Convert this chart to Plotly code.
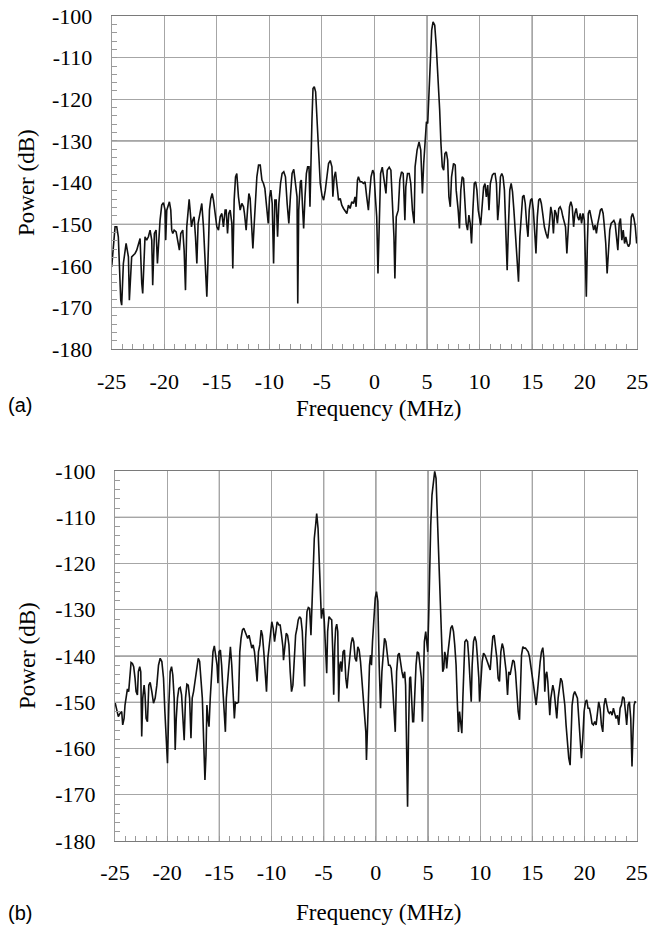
import plotly.graph_objects as go

# ---------------- data: panel (a) ----------------
freq_a = [
    -25.0, -24.68, -24.52, -24.37, -24.14, -24.05, -23.89, -23.73, -23.63, -23.41,
    -23.32, -23.10, -22.94, -22.78, -22.62, -22.46, -22.30, -22.14, -22.05, -21.83,
    -21.67, -21.51, -21.35, -21.19, -21.10, -20.94, -20.78, -20.65, -20.56, -20.40,
    -20.24, -20.08, -19.92, -19.86, -19.76, -19.60, -19.51, -19.38, -19.29, -19.19,
    -19.06, -18.87, -18.75, -18.56, -18.43, -18.24, -18.11, -17.98, -17.86, -17.73,
    -17.63, -17.54, -17.41, -17.29, -17.16, -17.03, -16.90, -16.78, -16.59, -16.43,
    -16.27, -16.11, -15.95, -15.79, -15.70, -15.57, -15.44, -15.32, -15.16, -15.00,
    -14.84, -14.68, -14.52, -14.37, -14.21, -14.11, -13.98, -13.86, -13.73, -13.57,
    -13.48, -13.35, -13.22, -13.10, -12.94, -12.78, -12.62, -12.46, -12.37, -12.21,
    -12.08, -11.95, -11.83, -11.67, -11.57, -11.44, -11.32, -11.19, -11.03, -10.87,
    -10.71, -10.56, -10.43, -10.24, -10.11, -9.98, -9.86, -9.73, -9.60, -9.48,
    -9.35, -9.22, -9.10, -8.94, -8.79, -8.63, -8.47, -8.31, -8.15, -8.00,
    -7.84, -7.68, -7.52, -7.37, -7.30, -7.21, -7.05, -6.96, -6.83, -6.74,
    -6.61, -6.48, -6.36, -6.23, -6.14, -6.04, -5.95, -5.85, -5.73, -5.60,
    -5.47, -5.32, -5.16, -5.00, -4.84, -4.68, -4.53, -4.37, -4.21, -4.05,
    -3.96, -3.83, -3.71, -3.58, -3.42, -3.26, -3.11, -2.95, -2.79, -2.63,
    -2.48, -2.32, -2.16, -2.00, -1.85, -1.75, -1.62, -1.53, -1.37, -1.21,
    -1.06, -0.90, -0.74, -0.58, -0.49, -0.33, -0.17, -0.05, 0.08, 0.21,
    0.33, 0.46, 0.58, 0.74, 0.90, 1.09, 1.21, 1.40, 1.56, 1.72,
    1.85, 1.94, 2.07, 2.26, 2.41, 2.57, 2.73, 2.89, 2.98, 3.14,
    3.30, 3.45, 3.61, 3.77, 3.86, 4.05, 4.24, 4.40, 4.56, 4.68,
    4.81, 4.94, 5.06, 5.16, 5.28, 5.44, 5.57, 5.73, 5.88, 6.04,
    6.20, 6.32, 6.45, 6.58, 6.70, 6.83, 6.96, 7.08, 7.21, 7.33,
    7.52, 7.68, 7.77, 7.96, 8.08, 8.21, 8.34, 8.47, 8.60, 8.72,
    8.85, 8.98, 9.11, 9.23, 9.36, 9.49, 9.62, 9.74, 9.87, 10.10,
    10.26, 10.38, 10.51, 10.64, 10.77, 10.89, 11.02, 11.21, 11.34, 11.47,
    11.60, 11.72, 11.85, 11.98, 12.11, 12.23, 12.36, 12.49, 12.62, 12.74,
    12.87, 13.00, 13.13, 13.26, 13.38, 13.51, 13.70, 13.83, 13.96, 14.09,
    14.21, 14.34, 14.47, 14.60, 14.72, 14.85, 14.98, 15.11, 15.23, 15.36,
    15.49, 15.62, 15.75, 15.87, 16.00, 16.16, 16.32, 16.48, 16.64, 16.77,
    16.89, 17.02, 17.15, 17.28, 17.40, 17.53, 17.66, 17.79, 17.92, 18.04,
    18.17, 18.30, 18.43, 18.55, 18.68, 18.81, 18.94, 19.06, 19.19, 19.32,
    19.45, 19.57, 19.70, 19.83, 19.96, 20.09, 20.15, 20.25, 20.34, 20.47,
    20.60, 20.72, 20.85, 20.98, 21.11, 21.24, 21.36, 21.49, 21.62, 21.75,
    21.87, 22.00, 22.13, 22.26, 22.38, 22.51, 22.64, 22.77, 22.89, 23.02,
    23.15, 23.28, 23.40, 23.53, 23.66, 23.79, 23.91, 24.04, 24.17, 24.30,
    24.43, 24.55, 24.68, 24.81, 24.94,
]
power_a = [
    -160.2, -150.6, -150.6, -153.0, -168.2, -169.4, -159.4, -155.4, -154.6, -157.8,
    -168.2, -157.8, -157.4, -157.0, -156.2, -154.6, -153.4, -164.2, -166.6, -153.0,
    -153.8, -153.0, -151.4, -153.8, -164.6, -152.2, -151.4, -159.4, -154.6, -149.0,
    -145.4, -144.8, -146.6, -153.8, -146.6, -145.0, -144.6, -146.6, -151.4, -152.2,
    -151.4, -151.8, -153.8, -156.2, -152.2, -151.4, -156.2, -165.8, -150.6, -146.6,
    -144.0, -146.6, -150.6, -149.0, -148.2, -153.0, -159.4, -149.8, -146.6, -145.0,
    -150.6, -161.0, -167.4, -154.6, -146.6, -143.8, -142.6, -144.2, -148.2, -150.6,
    -151.4, -148.2, -147.4, -150.6, -146.6, -146.6, -152.2, -147.4, -146.6, -149.8,
    -160.6, -144.2, -138.6, -137.8, -143.4, -146.6, -145.0, -145.8, -147.4, -151.4,
    -146.6, -142.6, -143.8, -151.4, -155.8, -149.8, -145.0, -138.6, -135.8, -135.8,
    -139.4, -140.2, -141.4, -146.6, -149.8, -143.4, -141.8, -145.0, -159.4, -144.2,
    -144.2, -153.0, -145.0, -140.2, -137.8, -137.4, -138.6, -145.0, -149.8, -143.4,
    -137.8, -136.8, -140.2, -143.4, -169.0, -146.6, -139.8, -139.4, -146.6, -151.0,
    -143.4, -137.8, -136.2, -136.2, -145.8, -130.6, -125.0, -117.4, -117.0, -118.2,
    -124.2, -133.0, -140.2, -143.0, -144.2, -141.8, -138.6, -135.4, -134.7, -136.2,
    -143.4, -138.6, -137.4, -140.2, -144.2, -143.8, -145.4, -146.2, -147.0, -147.4,
    -145.4, -146.2, -144.6, -145.0, -143.4, -145.8, -139.4, -138.6, -139.8, -139.8,
    -140.2, -139.8, -143.4, -146.6, -143.4, -138.6, -137.0, -137.8, -143.4, -148.2,
    -161.8, -146.6, -137.8, -136.3, -139.4, -142.6, -137.0, -136.3, -137.0, -146.6,
    -153.0, -163.0, -148.2, -146.6, -139.4, -137.4, -137.8, -149.0, -141.0, -137.8,
    -137.8, -140.2, -146.6, -149.8, -136.2, -132.2, -130.2, -132.2, -142.6, -135.4,
    -129.0, -125.4, -125.8, -120.2, -109.8, -103.4, -101.4, -102.2, -107.4, -114.6,
    -122.6, -130.6, -136.2, -137.0, -133.0, -132.6, -134.6, -143.4, -145.8, -138.6,
    -135.4, -135.8, -141.8, -146.6, -151.0, -141.8, -138.6, -139.0, -143.4, -149.8,
    -151.4, -147.8, -149.8, -154.6, -146.6, -140.2, -139.8, -141.8, -146.6, -150.2,
    -145.0, -141.0, -140.2, -143.4, -140.6, -146.6, -140.2, -138.2, -137.8, -137.8,
    -140.2, -149.0, -145.0, -138.6, -137.8, -138.6, -141.8, -149.8, -161.0, -150.6,
    -141.8, -140.2, -142.2, -146.6, -151.4, -156.2, -163.8, -153.0, -146.6, -143.4,
    -143.0, -145.0, -149.8, -153.0, -146.6, -144.2, -143.8, -146.6, -151.4, -157.0,
    -148.2, -144.2, -143.8, -145.0, -147.4, -150.6, -152.2, -153.4, -149.8, -145.8,
    -147.4, -152.2, -146.6, -147.4, -149.8, -146.2, -145.8, -146.6, -148.2, -149.8,
    -150.6, -157.0, -149.8, -145.8, -144.6, -145.8, -150.6, -147.4, -146.2, -148.2,
    -149.0, -147.4, -149.8, -147.4, -149.0, -161.0, -167.4, -154.6, -147.4, -146.6,
    -148.2, -149.8, -151.4, -150.2, -152.2, -149.8, -148.2, -146.6, -146.2, -147.4,
    -150.6, -154.6, -161.8, -154.6, -151.4, -149.8, -149.4, -149.1, -149.8, -153.0,
    -156.2, -149.8, -148.6, -153.8, -151.4, -154.6, -153.0, -154.6, -155.4, -154.6,
    -148.2, -147.4, -148.6, -150.6, -154.6,
]

# ---------------- data: panel (b) ----------------
freq_b = [
    -25.0, -24.84, -24.68, -24.52, -24.36, -24.26, -24.13, -24.04, -23.94, -23.81,
    -23.69, -23.56, -23.46, -23.33, -23.21, -23.08, -22.98, -22.85, -22.76, -22.63,
    -22.53, -22.44, -22.34, -22.21, -22.12, -22.02, -21.89, -21.76, -21.63, -21.47,
    -21.31, -21.15, -20.99, -20.83, -20.67, -20.51, -20.35, -20.22, -20.10, -19.97,
    -19.84, -19.71, -19.58, -19.46, -19.33, -19.23, -19.13, -19.01, -18.88, -18.75,
    -18.62, -18.49, -18.37, -18.24, -18.11, -17.98, -17.85, -17.72, -17.60, -17.47,
    -17.31, -17.15, -17.02, -16.89, -16.76, -16.63, -16.51, -16.38, -16.28, -16.19,
    -16.09, -15.99, -15.87, -15.74, -15.61, -15.48, -15.35, -15.22, -15.13, -15.03,
    -14.90, -14.78, -14.65, -14.52, -14.42, -14.33, -14.20, -14.07, -13.94, -13.81,
    -13.69, -13.56, -13.46, -13.30, -13.17, -13.04, -12.92, -12.79, -12.66, -12.53,
    -12.40, -12.28, -12.15, -12.02, -11.89, -11.76, -11.63, -11.51, -11.38, -11.25,
    -11.12, -10.99, -10.87, -10.74, -10.61, -10.48, -10.35, -10.22, -10.10, -9.97,
    -9.84, -9.71, -9.58, -9.46, -9.29, -9.17, -9.04, -8.91, -8.85, -8.72,
    -8.59, -8.46, -8.33, -8.21, -8.08, -7.95, -7.82, -7.69, -7.56, -7.44,
    -7.31, -7.18, -7.05, -6.92, -6.83, -6.73, -6.60, -6.47, -6.35, -6.22,
    -6.12, -6.03, -5.90, -5.77, -5.67, -5.54, -5.42, -5.32, -5.22, -5.13,
    -5.03, -4.94, -4.81, -4.71, -4.62, -4.49, -4.36, -4.23, -4.13, -4.04,
    -3.94, -3.85, -3.75, -3.65, -3.56, -3.46, -3.37, -3.27, -3.14, -3.01,
    -2.88, -2.76, -2.63, -2.50, -2.37, -2.24, -2.12, -1.99, -1.86, -1.73,
    -1.60, -1.47, -1.35, -1.22, -1.09, -0.96, -0.90, -0.80, -0.71, -0.61,
    -0.51, -0.42, -0.32, -0.19, -0.06, 0.06, 0.19, 0.32, 0.45, 0.58,
    0.71, 0.83, 0.96, 1.09, 1.22, 1.35, 1.47, 1.60, 1.73, 1.86,
    1.99, 2.12, 2.24, 2.37, 2.50, 2.63, 2.76, 2.85, 2.95, 3.04,
    3.14, 3.24, 3.33, 3.43, 3.53, 3.62, 3.72, 3.85, 3.97, 4.10,
    4.23, 4.36, 4.46, 4.55, 4.65, 4.78, 4.87, 4.97, 5.06, 5.16,
    5.26, 5.38, 5.51, 5.64, 5.77, 5.90, 6.03, 6.15, 6.28, 6.41,
    6.51, 6.60, 6.70, 6.79, 6.92, 7.05, 7.18, 7.31, 7.44, 7.56,
    7.69, 7.82, 7.92, 8.02, 8.15, 8.24, 8.34, 8.44, 8.53, 8.66,
    8.79, 8.91, 9.04, 9.14, 9.23, 9.36, 9.49, 9.62, 9.74, 9.87,
    9.94, 10.06, 10.19, 10.32, 10.45, 10.57, 10.70, 10.83, 10.96, 11.09,
    11.21, 11.34, 11.47, 11.60, 11.72, 11.85, 11.98, 12.11, 12.23, 12.36,
    12.49, 12.62, 12.74, 12.87, 13.00, 13.13, 13.26, 13.38, 13.51, 13.64,
    13.77, 13.86, 13.96, 14.09, 14.21, 14.34, 14.47, 14.60, 14.72, 14.85,
    14.98, 15.11, 15.23, 15.36, 15.49, 15.62, 15.75, 15.87, 16.00, 16.10,
    16.19, 16.29, 16.38, 16.48, 16.58, 16.67, 16.77, 16.86, 16.96, 17.09,
    17.21, 17.34, 17.47, 17.60, 17.72, 17.85, 17.98, 18.11, 18.23, 18.36,
    18.49, 18.62, 18.71, 18.81, 18.94, 19.06, 19.19, 19.32, 19.45, 19.58,
    19.70, 19.83, 19.96, 20.09, 20.21, 20.34, 20.47, 20.60, 20.72, 20.85,
    20.98, 21.11, 21.24, 21.36, 21.49, 21.62, 21.75, 21.87, 22.00, 22.13,
    22.26, 22.38, 22.51, 22.64, 22.77, 22.89, 23.02, 23.15, 23.28, 23.41,
    23.53, 23.66, 23.79, 23.92, 24.04, 24.17, 24.30, 24.43, 24.49, 24.55,
    24.65, 24.75, 24.84, 24.94,
]
power_b = [
    -150.0, -152.0, -153.1, -152.4, -152.0, -154.9, -153.5, -150.6, -148.4, -147.1,
    -147.7, -144.8, -141.4, -141.6, -142.3, -144.8, -147.7, -148.4, -143.4, -142.3,
    -143.4, -157.4, -149.1, -146.3, -148.4, -153.5, -154.2, -146.3, -145.7, -147.7,
    -150.2, -149.1, -146.3, -142.0, -140.5, -141.2, -144.8, -152.0, -156.4, -163.2,
    -150.6, -143.4, -142.3, -144.1, -149.1, -160.3, -153.5, -149.1, -147.0, -146.8,
    -148.4, -154.9, -158.2, -149.1, -146.1, -146.3, -149.1, -157.8, -149.1, -147.7,
    -144.8, -142.0, -140.5, -141.2, -144.8, -149.1, -157.8, -166.8, -161.4, -150.6,
    -153.5, -155.3, -149.1, -143.4, -139.1, -137.8, -140.5, -142.0, -145.9, -139.1,
    -138.7, -142.0, -147.7, -152.0, -156.4, -149.1, -144.8, -140.5, -138.0, -142.0,
    -149.1, -153.5, -150.0, -150.2, -150.0, -139.1, -136.2, -134.4, -134.0, -134.7,
    -135.6, -136.2, -135.5, -136.9, -138.3, -137.6, -139.1, -142.0, -145.5, -139.1,
    -137.6, -134.4, -135.5, -139.1, -144.8, -147.7, -140.5, -137.6, -136.2, -132.6,
    -134.0, -136.9, -134.7, -132.6, -133.3, -133.3, -135.5, -138.0, -140.9, -137.6,
    -135.1, -135.5, -137.6, -143.4, -147.7, -146.3, -142.0, -135.5, -134.0, -132.2,
    -131.5, -131.9, -134.7, -140.5, -146.6, -136.2, -130.4, -129.5, -129.7, -135.5,
    -129.7, -120.3, -114.6, -111.7, -109.2, -112.4, -118.9, -125.4, -131.9, -130.4,
    -129.7, -132.6, -140.5, -143.7, -134.7, -131.5, -131.9, -132.2, -139.1, -148.4,
    -138.0, -134.0, -133.1, -134.7, -149.9, -142.0, -141.2, -143.4, -139.1, -138.7,
    -144.8, -147.0, -143.4, -139.8, -137.3, -136.0, -136.9, -140.5, -141.2, -138.0,
    -138.7, -141.2, -144.8, -147.0, -150.6, -156.4, -162.5, -153.5, -144.8, -142.0,
    -139.8, -142.0, -136.9, -131.9, -127.5, -126.1, -128.2, -142.0, -151.3, -143.4,
    -139.1, -136.2, -136.9, -139.1, -142.0, -142.0, -142.7, -146.3, -150.6, -156.4,
    -143.4, -139.8, -139.4, -142.0, -143.4, -144.8, -143.4, -146.3, -160.7, -172.6,
    -155.6, -144.8, -144.5, -149.1, -154.2, -154.2, -147.7, -142.0, -139.1, -139.4,
    -142.0, -144.8, -154.2, -143.4, -136.9, -134.7, -136.9, -139.1, -131.9, -120.3,
    -111.7, -105.2, -101.9, -100.1, -101.6, -109.5, -119.6, -129.0, -135.5, -143.4,
    -142.7, -139.1, -140.1, -142.7, -139.1, -136.2, -134.0, -133.4, -134.7, -137.6,
    -142.0, -150.6, -156.4, -152.0, -154.9, -156.7, -149.1, -140.5, -136.9, -136.5,
    -136.9, -140.5, -144.8, -149.9, -142.0, -136.9, -135.8, -136.9, -140.5, -144.8,
    -149.9, -144.8, -141.2, -139.4, -139.8, -140.5, -141.2, -142.0, -143.0, -139.1,
    -135.8, -135.5, -137.6, -140.5, -144.8, -145.5, -139.1, -137.3, -138.3, -140.5,
    -143.4, -148.4, -143.4, -144.1, -142.0, -140.9, -141.2, -143.4, -147.7, -152.0,
    -153.8, -144.8, -139.8, -138.0, -138.3, -138.3, -138.7, -139.1, -140.1, -142.0,
    -143.4, -146.3, -148.4, -150.6, -147.7, -143.4, -141.2, -139.1, -138.2, -140.5,
    -147.7, -144.1, -143.4, -145.5, -149.1, -152.8, -149.1, -147.0, -146.3, -147.7,
    -150.6, -153.5, -149.1, -146.3, -144.8, -145.5, -147.7, -150.6, -154.9, -159.2,
    -162.1, -163.6, -154.9, -150.6, -148.4, -147.7, -148.4, -149.1, -153.5, -158.5,
    -162.1, -157.8, -152.0, -149.9, -149.5, -151.3, -151.3, -152.8, -154.6, -154.9,
    -154.2, -154.9, -151.3, -149.9, -151.3, -154.9, -156.4, -150.6, -149.1, -150.6,
    -152.0, -152.4, -152.0, -152.8, -151.3, -152.4, -153.5, -152.8, -154.9, -151.3,
    -150.6, -148.8, -149.1, -152.0, -154.9, -150.6, -149.9, -153.5, -160.0, -163.9,
    -156.4, -150.6, -149.9, -150.0,
]

# ---------------- axes ticks ----------------
x_tick_vals = [-25, -20, -15, -10, -5, 0, 5, 10, 15, 20, 25]
x_tick_text = ["-25", "-20", "-15", "-10", "-5", "0", "5", "10", "15", "20", "25"]
x_minor_vals = list(range(-25, 26))
y_tick_vals = [-180, -170, -160, -150, -140, -130, -120, -110, -100]
y_tick_text = ["-180", "-170", "-160", "-150", "-140", "-130", "-120", "-110", "-100"]
y_minor_vals = list(range(-180, -99, 2))

# gridlines that print darker in the original scan
dark_h_a = [-130, -150]
dark_v_a = [5, 15]
dark_h_b = [-110, -140, -150]
dark_v_b = [-15, -5, 0, 5, 15]

SERIF = "Liberation Serif, Times New Roman, serif"
SANS = "Liberation Sans, Arial, sans-serif"
GRID = "#a6a6a6"
GRID_DARK = "#6e6e6e"

fig = go.Figure()
fig.add_trace(go.Scatter(x=freq_a, y=power_a, mode="lines",
                         line=dict(color="#111111", width=1.6),
                         xaxis="x", yaxis="y", showlegend=False, hoverinfo="skip"))
fig.add_trace(go.Scatter(x=freq_b, y=power_b, mode="lines",
                         line=dict(color="#111111", width=1.6),
                         xaxis="x2", yaxis="y2", showlegend=False, hoverinfo="skip"))


def x_axis(domain, anchor):
    return dict(domain=domain, anchor=anchor, range=[-25, 25], automargin=False,
                tickmode="array", tickvals=x_tick_vals, ticktext=x_tick_text,
                showgrid=True, gridcolor=GRID, gridwidth=1, zeroline=False,
                showline=True, linecolor="#7a7a7a", linewidth=1, mirror=True,
                ticks="inside", ticklen=5, tickcolor="#9a9a9a",
                minor=dict(tickmode="array", tickvals=x_minor_vals, ticks="inside",
                           ticklen=5, tickcolor="#9a9a9a", showgrid=False),
                tickfont=dict(family=SERIF, size=22, color="black"),
                ticklabeloverflow="allow", ticklabelstandoff=12)


def y_axis(domain, anchor):
    return dict(domain=domain, anchor=anchor, range=[-180, -100], automargin=False,
                tickmode="array", tickvals=y_tick_vals, ticktext=y_tick_text,
                showgrid=True, gridcolor=GRID, gridwidth=1, zeroline=False,
                showline=True, linecolor="#9a9a9a", linewidth=1, mirror=True,
                ticks="inside", ticklen=5, tickcolor="#9a9a9a",
                minor=dict(tickmode="array", tickvals=y_minor_vals, ticks="inside",
                           ticklen=5, tickcolor="#9a9a9a", showgrid=False),
                tickfont=dict(family=SERIF, size=22, color="black"),
                ticklabeloverflow="allow", ticklabelstandoff=14)


W, H = 648, 936


def label(text, x, y, font, angle=0):
    return dict(text=text, x=x / W, y=1 - y / H, xref="paper", yref="paper",
                xanchor="center", yanchor="middle", textangle=angle,
                showarrow=False, font=font)


shapes = []
for xr, yr, hs, vs in (("x", "y", dark_h_a, dark_v_a), ("x2", "y2", dark_h_b, dark_v_b)):
    for v in hs:
        shapes.append(dict(type="line", xref=xr + " domain", yref=yr, x0=0, x1=1, y0=v, y1=v,
                           line=dict(color=GRID_DARK, width=1.2), layer="below"))
    for v in vs:
        shapes.append(dict(type="line", xref=xr, yref=yr + " domain", x0=v, x1=v, y0=0, y1=1,
                           line=dict(color=GRID_DARK, width=1.2), layer="below"))

serif_title = dict(family=SERIF, size=23, color="black")
sans_label = dict(family=SANS, size=20, color="black")
fig.update_layout(
    width=W, height=H,
    margin=dict(l=0, r=0, t=0, b=0, autoexpand=False),
    paper_bgcolor="white", plot_bgcolor="white",
    hovermode=False,
    xaxis=x_axis([111.7 / W, 637.3 / W], "y"),
    yaxis=y_axis([1 - 349.3 / H, 1 - 16 / H], "x"),
    xaxis2=x_axis([115 / W, 636.7 / W], "y2"),
    yaxis2=y_axis([1 - 841 / H, 1 - 471 / H], "x2"),
    shapes=shapes,
    annotations=[
        label("Power (dB)", 27, 183, serif_title, -90),
        label("Power (dB)", 27, 656, serif_title, -90),
        label("Frequency (MHz)", 378, 408, serif_title),
        label("Frequency (MHz)", 378, 912, serif_title),
        label("(a)", 20, 405, sans_label),
        label("(b)", 20, 913, sans_label),
    ],
)

fig.write_html("out.html",
               config={"staticPlot": True, "displayModeBar": False},
               post_script="document.body.style.margin='0';document.body.style.overflow='hidden';")
